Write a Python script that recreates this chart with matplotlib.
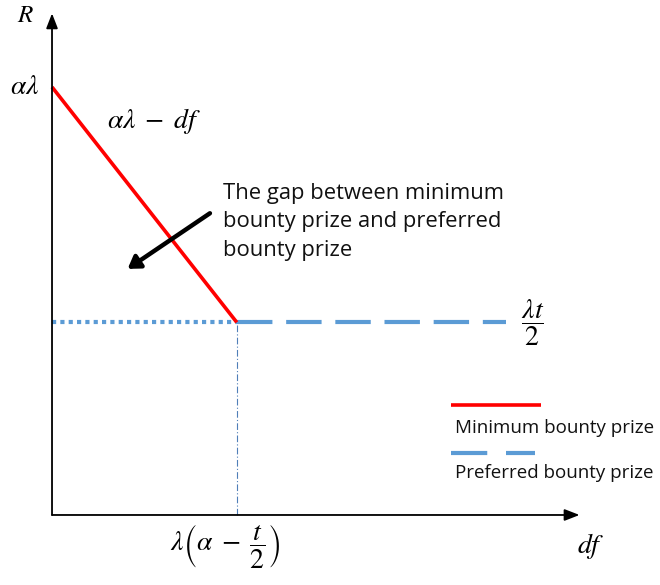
import matplotlib
matplotlib.use("Agg")
import matplotlib.pyplot as plt

plt.rcParams['mathtext.fontset'] = 'stix'
plt.rcParams['font.family'] = ['Open Sans', 'DejaVu Sans']

# schematic values (arbitrary units)
alpha_lambda = 10.0          # intercept of the minimum prize line
half_lambda_t = 4.5          # preferred prize level, lambda*t/2
kink_x = alpha_lambda - half_lambda_t
df_end = 13.5                # where the preferred prize line stops
x_axis_end = 15.7
y_axis_end = 11.72

min_x = [0, kink_x]
min_y = [alpha_lambda, half_lambda_t]
pref_dotted_x = [0, kink_x]
pref_dashed_x = [kink_x, df_end]

red = '#FF0000'
blue = '#5B9BD5'

fig = plt.figure(figsize=(6.6, 5.85), dpi=100)
ax = fig.add_axes([0, 0, 1, 1])
ax.set_xlim(-1.548, 18.095)
ax.set_ylim(-1.636, 12.033)
ax.axis('off')

# axes with arrow heads
arrow_kw = dict(arrowstyle='-|>,head_length=0.9,head_width=0.35', color='black', lw=1.3,
                shrinkA=0, shrinkB=0)
ax.annotate('', xy=(x_axis_end, 0), xytext=(0, 0), arrowprops=arrow_kw)
ax.annotate('', xy=(0, y_axis_end), xytext=(0, 0), arrowprops=arrow_kw)

# guide from the kink down to the df axis
ax.plot([kink_x, kink_x], [0, half_lambda_t], color='#4F7FB8', lw=0.8,
        linestyle=(0, (6, 2, 1, 2)))

# preferred bounty prize: dotted up to the kink, dashed after
ax.plot(pref_dotted_x, [half_lambda_t] * 2, color=blue, lw=3, linestyle=(0, (1, 1)),
        solid_capstyle='butt', dash_capstyle='butt')
ax.plot(pref_dashed_x, [half_lambda_t] * 2, color=blue, lw=3, linestyle=(0, (8.5, 3.3)),
        dash_capstyle='butt')

# minimum bounty prize
ax.plot(min_x, min_y, color=red, lw=2.6, solid_capstyle='butt')

# math labels
ms = 20
ax.text(-0.8, 11.67, r'$R$', fontsize=18, ha='center', va='center')
ax.text(-0.82, alpha_lambda, r'$\alpha\lambda$', fontsize=ms, ha='center', va='center')
ax.text(1.65, 9.2, r'$\alpha\lambda\;-\;df$', fontsize=ms, ha='left', va='center')
ax.text(14.29, half_lambda_t, r'$\dfrac{\lambda t}{2}$', fontsize=ms, ha='center', va='center')
ax.text(5.15, -0.72, r'$\lambda\left(\alpha\;-\;\dfrac{t}{2}\right)$', fontsize=ms,
        ha='center', va='center')
ax.text(16.04, -0.72, r'$df$', fontsize=ms, ha='center', va='center')

# annotation about the gap
ax.text(5.1, 6.85, 'The gap between minimum\nbounty prize and preferred\nbounty prize',
        fontsize=15.8, ha='left', va='center', linespacing=1.45, color='#111111')
ax.annotate('', xy=(2.25, 5.75), xytext=(4.7, 7.05),
            arrowprops=dict(arrowstyle='-|>,head_length=0.7,head_width=0.45',
                            color='black', lw=3.2, shrinkA=0, shrinkB=0))

# hand-drawn legend in the lower right
ax.plot([0.683, 0.82], [0.308, 0.308], transform=ax.transAxes, color=red, lw=2.6,
        solid_capstyle='butt')
ax.text(0.689, 0.268, 'Minimum bounty prize', transform=ax.transAxes, fontsize=13.5,
        ha='left', va='center', color='#111111')
ax.plot([0.683, 0.81], [0.226, 0.226], transform=ax.transAxes, color=blue, lw=3,
        linestyle=(0, (8.7, 4.5)), dash_capstyle='butt')
ax.text(0.689, 0.191, 'Preferred bounty prize', transform=ax.transAxes, fontsize=13.5,
        ha='left', va='center', color='#111111')

fig.savefig('out.png', dpi=100)
